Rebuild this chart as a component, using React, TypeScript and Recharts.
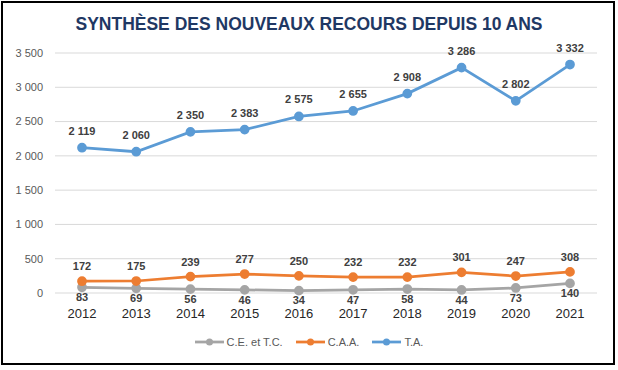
import { LineChart, Line, XAxis, YAxis, CartesianGrid, LabelList } from 'recharts';

const YEARS = ['2012', '2013', '2014', '2015', '2016', '2017', '2018', '2019', '2020', '2021'];
const CE_TC = [83, 69, 56, 46, 34, 47, 58, 44, 73, 140];
const CAA = [172, 175, 239, 277, 250, 232, 232, 301, 247, 308];
const TA = [2119, 2060, 2350, 2383, 2575, 2655, 2908, 3286, 2802, 3332];
const Y_TICKS = [0, 500, 1000, 1500, 2000, 2500, 3000, 3500];

const SERIES = [
  { key: 'ce', label: 'C.E. et T.C.', color: '#A5A5A5' },
  { key: 'caa', label: 'C.A.A.', color: '#ED7D31' },
  { key: 'ta', label: 'T.A.', color: '#5B9BD5' },
];

const FONT = '"Liberation Sans", Arial, sans-serif';

const fmt = (v: number) => String(v).replace(/\B(?=(\d{3})+(?!\d))/g, ' ');

const data = YEARS.map((year, i) => ({ year, ce: CE_TC[i], caa: CAA[i], ta: TA[i] }));

const labelStyle = { fontSize: 11, fontWeight: 700, fill: '#404040', fontFamily: FONT };

export default function App() {
  return (
    <div style={{ position: 'absolute', left: 0, top: 0, width: 618, height: 370, background: '#fff', fontFamily: FONT }}>
      <div
        style={{
          position: 'absolute', left: 1, top: 1, width: 614, height: 364,
          border: '2px solid #000', boxSizing: 'border-box',
        }}
      />
      <div
        style={{
          position: 'absolute', left: 0, top: 16, width: 618, textAlign: 'center',
          fontSize: 17.5, lineHeight: '17.5px', fontWeight: 700, color: '#1F3864',
        }}
      >
        SYNTHÈSE DES NOUVEAUX RECOURS DEPUIS 10 ANS
      </div>
      <div style={{ position: 'absolute', left: 0, top: 0 }}>
        <LineChart width={618} height={370} data={data} margin={{ top: 53, right: 21, left: 0, bottom: 47 }}>
          <CartesianGrid vertical={false} stroke="#D9D9D9" />
          <XAxis
            dataKey="year"
            axisLine={false}
            tickLine={false}
            tickSize={0}
            tickMargin={15.5}
            height={30}
            padding={{ left: 27, right: 27 }}
            tick={{ fontSize: 13, fill: '#262626', fontFamily: FONT }}
            interval={0}
          />
          <YAxis
            width={55}
            domain={[0, 3500]}
            ticks={Y_TICKS}
            axisLine={false}
            tickLine={false}
            tickSize={0}
            tickMargin={12}
            tickFormatter={fmt}
            tick={{ fontSize: 11, fill: '#595959', fontFamily: FONT }}
          />
          <Line
            dataKey="ce"
            stroke="#A5A5A5"
            strokeWidth={2.75}
            dot={{ r: 3.5, fill: '#A5A5A5', stroke: '#A5A5A5' }}
            isAnimationActive={false}
          >
            <LabelList dataKey="ce" position="bottom" offset={6} formatter={fmt} style={labelStyle} />
          </Line>
          <Line
            dataKey="caa"
            stroke="#ED7D31"
            strokeWidth={2.75}
            dot={{ r: 3.5, fill: '#ED7D31', stroke: '#ED7D31' }}
            isAnimationActive={false}
          >
            <LabelList dataKey="caa" position="top" offset={11} formatter={fmt} style={labelStyle} />
          </Line>
          <Line
            dataKey="ta"
            stroke="#5B9BD5"
            strokeWidth={2.75}
            dot={{ r: 3.5, fill: '#5B9BD5', stroke: '#5B9BD5' }}
            isAnimationActive={false}
          >
            <LabelList dataKey="ta" position="top" offset={13} formatter={fmt} style={labelStyle} />
          </Line>
        </LineChart>
      </div>
      <div
        style={{
          position: 'absolute', left: 0, top: 335, width: 618, height: 14,
          display: 'flex', justifyContent: 'center', alignItems: 'center',
          fontSize: 11, color: '#595959',
        }}
      >
        {SERIES.map((s, i) => (
          <div key={s.key} style={{ display: 'flex', alignItems: 'center', marginLeft: i === 0 ? 0 : 13 }}>
            <svg width={29} height={10}>
              <line x1={0} y1={5} x2={29} y2={5} stroke={s.color} strokeWidth={2.75} />
              <circle cx={14.5} cy={5} r={3.5} fill={s.color} />
            </svg>
            <span style={{ marginLeft: 3 }}>{s.label}</span>
          </div>
        ))}
      </div>
    </div>
  );
}
